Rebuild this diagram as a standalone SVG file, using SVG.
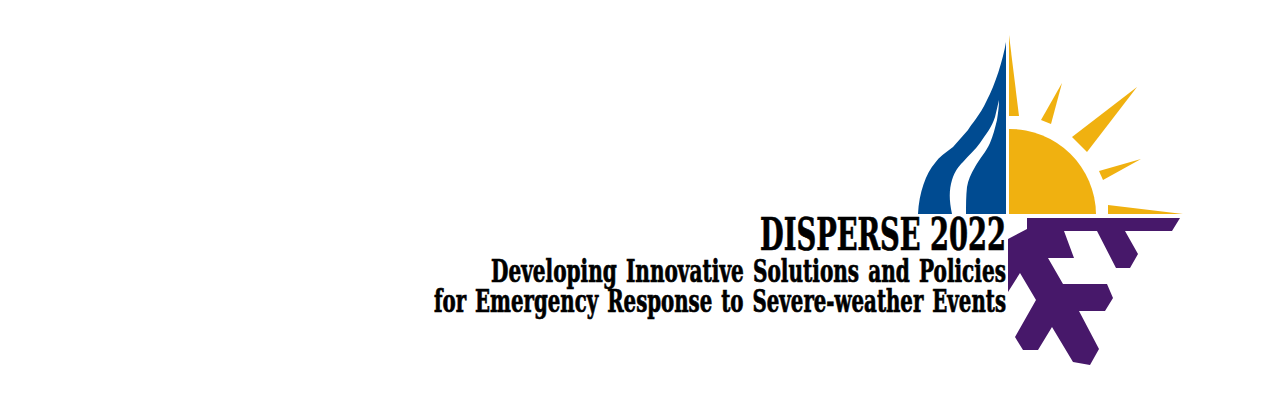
<svg xmlns="http://www.w3.org/2000/svg" width="1280" height="400" viewBox="0 0 1280 400">
<style>
.t{font-family:"DejaVu Serif Condensed","DejaVu Serif",serif;font-weight:700;fill:#000;stroke:#000;stroke-width:.7}
.y{fill:#f0b110}
</style>
<rect width="1280" height="400" fill="#fff"/>
<g id="rain">
<path fill="#004b91" d="M1006 42C1003 60 995 85 987 100C979 117 972 123 968 130L953 147C945 153 939 157 935 163C926 173 919 193 918 214L952 214C949 200 949 190 952 180C955 171 958 167 963 162C969 155 975 150 980 143C986 134 992 127 995 117L999 100C999 107 998 113 997 120C995 128 993 136 990 143C986 152 980 158 975 167C971 174 968 180 967 187C966 196 966 205 966 214L1006 214Z"/>
</g>
<g id="sun">
<path class="y" d="M1009 129A86 86 0 0 1 1096 214L1009 214Z"/>
<path class="y" d="M1009 35L1019 116L1009 116Z"/>
<path class="y" d="M1062 83L1051 124L1041 120Z"/>
<path class="y" d="M1137 87L1087 152L1072 137Z"/>
<path class="y" d="M1141 159L1103 180L1099 171Z"/>
<path class="y" d="M1183 214L1108 214L1108 205Z"/>
</g>
<g id="snowflake">
<path fill="#47186a" d="M1027 218L1180 218L1172 231L1125 231L1138 254L1130 268L1116 268L1097 231L1064 231L1074 258L1048 258L1063 284L1107 284L1113 298L1105 311L1079 311L1099 349L1090 365L1073 362L1052 327L1038 350L1023 350L1015 337L1036 300L1020 273L1008 292L1008 239L1027 229Z"/>
</g>
<g id="title">
<text class="t" x="760" y="250" font-size="44" textLength="246" lengthAdjust="spacingAndGlyphs">DISPERSE 2022</text>
<text class="t" x="491" y="282" font-size="31" word-spacing="3" textLength="515" lengthAdjust="spacingAndGlyphs">Developing Innovative Solutions and Policies</text>
<text class="t" x="434" y="312" font-size="31" word-spacing="3" textLength="572" lengthAdjust="spacingAndGlyphs">for Emergency Response to Severe-weather Events</text>
</g>
</svg>
